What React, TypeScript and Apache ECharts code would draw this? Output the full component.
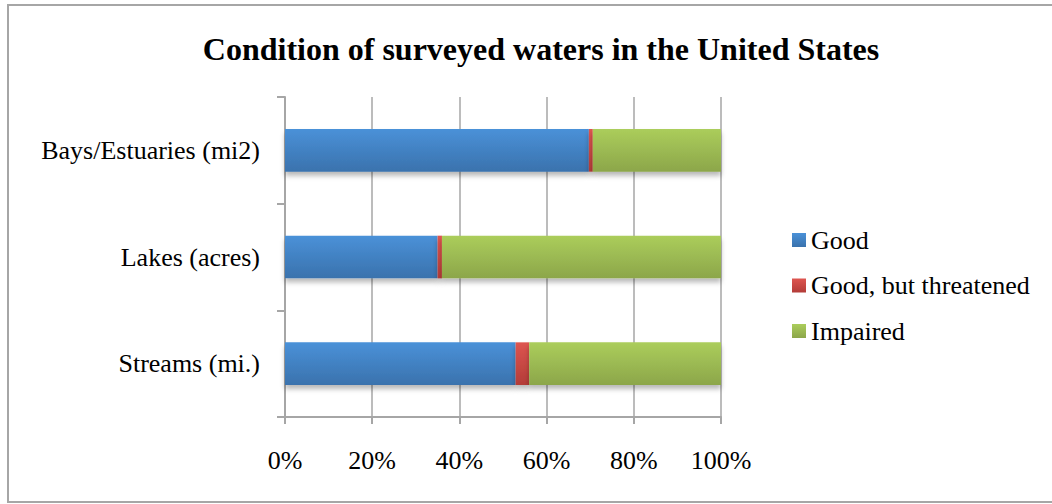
import React, { useEffect, useRef } from "react";
import * as echarts from "echarts";

// Share of surveyed waters by condition (percent of each water type)
const categories = ["Bays/Estuaries (mi2)", "Lakes (acres)", "Streams (mi.)"];
const good = [69.7, 35.0, 52.9];
const goodThreatened = [0.9, 1.0, 3.1];
const impaired = [29.4, 64.0, 44.0];
const xTicks = [0, 20, 40, 60, 80, 100];

const FONT = "'Liberation Serif', 'Times New Roman', serif";

function grad(top: string, bottom: string) {
  return new echarts.graphic.LinearGradient(0, 0, 0, 1, [
    { offset: 0, color: top },
    { offset: 1, color: bottom },
  ]);
}

export default function App() {
  const ref = useRef<HTMLDivElement>(null);

  useEffect(() => {
    document.body.style.margin = "0";
    const chart = echarts.init(ref.current!, undefined, { renderer: "svg" });
    const shadow = {
      shadowBlur: 5,
      shadowOffsetY: 4,
      shadowColor: "rgba(0,0,0,0.28)",
    };
    const mk = (name: string, data: number[], top: string, bottom: string) => ({
      name,
      type: "bar",
      stack: "total",
      barWidth: "40%",
      data,
      itemStyle: { color: grad(top, bottom), ...shadow },
    });
    chart.setOption({
      animation: false,
      backgroundColor: "#fff",
      title: {
        text: "Condition of surveyed waters in the United States",
        left: 536,
        textAlign: "center",
        top: 28,
        textStyle: {
          fontFamily: FONT,
          fontWeight: "bold",
          fontSize: 32,
          lineHeight: 32,
          color: "#000",
        },
      },
      graphic: [
        {
          type: "rect",
          shape: { x: 8, y: 5, width: 1100, height: 497 },
          style: { fill: "none", stroke: "#a6a6a6", lineWidth: 2 },
          silent: true,
        },
      ],
      legend: {
        orient: "vertical",
        left: 792,
        top: 227,
        padding: 0,
        itemWidth: 14,
        itemHeight: 14,
        itemGap: 19.5,
        icon: "rect",
        textStyle: {
          fontFamily: FONT,
          fontSize: 26,
          color: "#000",
          lineHeight: 26,
        },
      },
      grid: { left: 285, right: 331, top: 97, bottom: 87 },
      xAxis: {
        type: "value",
        min: 0,
        max: 100,
        interval: 20,
        axisLine: { show: true, lineStyle: { color: "#a6a6a6", width: 2 } },
        axisTick: { show: true, length: 7, lineStyle: { color: "#a6a6a6", width: 2 } },
        splitLine: { show: true, lineStyle: { color: "#a6a6a6", width: 1.5 } },
        axisLabel: {
          margin: 30,
          fontFamily: FONT,
          fontSize: 26,
          color: "#000",
          formatter: (v: number) => (xTicks.includes(v) ? `${v}%` : ""),
        },
      },
      yAxis: {
        type: "category",
        inverse: true,
        data: categories,
        axisLine: { show: true, lineStyle: { color: "#a6a6a6", width: 2 } },
        axisTick: { show: true, length: 8, lineStyle: { color: "#a6a6a6", width: 2 } },
        axisLabel: {
          margin: 25,
          fontFamily: FONT,
          fontSize: 26,
          color: "#000",
        },
      },
      series: [
        mk("Good", good, "#4a91d8", "#3a72ad"),
        mk("Good, but threatened", goodThreatened, "#de5550", "#b33c38"),
        mk("Impaired", impaired, "#abcd5b", "#8ca64a"),
      ],
    });
    return () => chart.dispose();
  }, []);

  return <div ref={ref} style={{ width: 1052, height: 504 }} />;
}
